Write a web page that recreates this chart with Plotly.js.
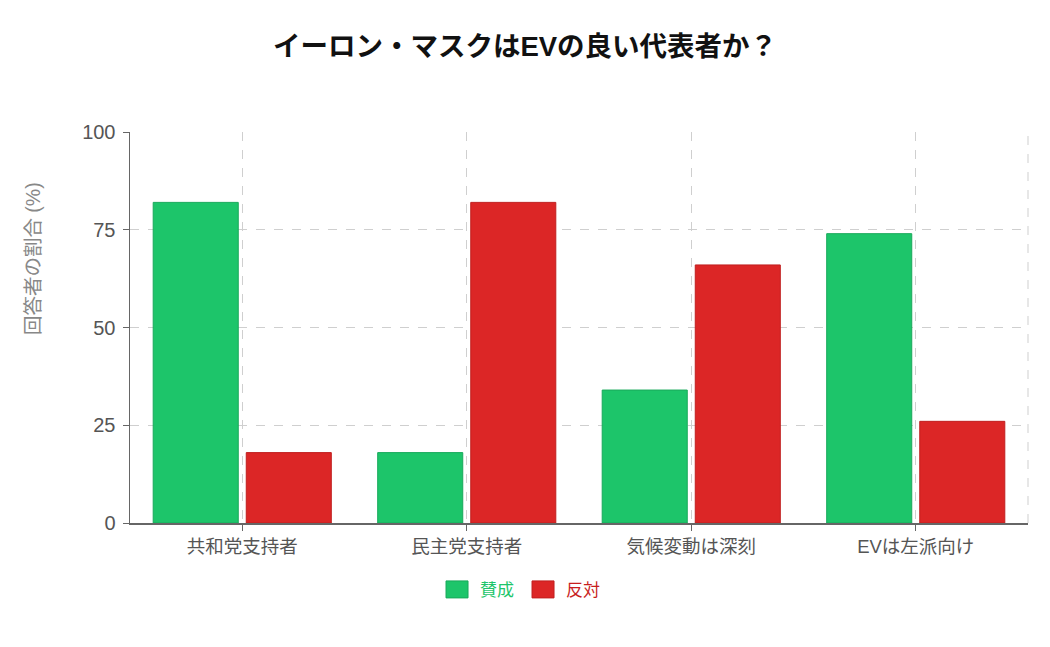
<!DOCTYPE html>
<html>
<head>
<meta charset="utf-8">
<script src="https://cdn.plot.ly/plotly-3.0.1.min.js"></script>
<style>html,body{margin:0;padding:0;background:#fff;}#chart{width:1050px;height:647px;}</style>
</head>
<body>
<div id="chart"></div>
<script>
const categories = ["共和党支持者", "民主党支持者", "気候変動は深刻", "EVは左派向け"];
const agree = [82, 18, 34, 74];
const disagree = [18, 82, 66, 26];
const yTicks = [0, 25, 50, 75, 100];

const font = "'Liberation Sans', 'Noto Sans CJK JP', sans-serif";
const traces = [
  {type: "bar", name: "賛成", x: categories, y: agree,
   marker: {color: "#1dc56a", line: {color: "#18a95a", width: 1}}},
  {type: "bar", name: "反対", x: categories, y: disagree,
   marker: {color: "#dc2626", line: {color: "#c01f1f", width: 1}}}
];
const layout = {
  width: 1050, height: 647,
  margin: {l: 130, r: 22, t: 132, b: 124},
  paper_bgcolor: "#fff", plot_bgcolor: "#fff",
  font: {family: font, color: "#555"},
  title: {text: "<b>イーロン・マスクはEVの良い代表者か？</b>", x: 0.5, xanchor: "center", y: 0.928, yanchor: "middle",
          font: {family: font, size: 27.5, color: "#111"}},
  barmode: "group", bargap: 0.171, bargroupgap: 0.086,
  xaxis: {type: "category", range: [-0.5, 3.5], showline: true, linecolor: "#666", linewidth: 1.5,
          ticks: "outside", ticklen: 6, tickcolor: "#666",
          showgrid: true, gridcolor: "#cfcfcf", griddash: "dash", gridwidth: 1,
          tickfont: {size: 18.5, color: "#555"}, fixedrange: true},
  yaxis: {range: [0, 100], tickvals: yTicks, showline: true, linecolor: "#666", linewidth: 1.5,
          ticks: "outside", ticklen: 6, tickcolor: "#666", ticklabelstandoff: 3,
          showgrid: true, gridcolor: "#cfcfcf", griddash: "dash", gridwidth: 1, zeroline: false,
          tickfont: {size: 20, color: "#555"}},
  annotations: [{text: "回答者の割合 (%)", xref: "paper", yref: "paper", x: 0, y: 0.675,
                 xanchor: "center", yanchor: "middle", xshift: -97, textangle: -90, showarrow: false,
                 font: {size: 19.5, color: "#888"}}],
  legend: {orientation: "h", x: 0.441, xanchor: "center", y: -0.171, yanchor: "middle",
           entrywidth: 41, entrywidthmode: "pixels",
           font: {size: 17}},
  shapes: [{type: "line", xref: "paper", yref: "paper", x0: 1, x1: 1, y0: 0, y1: 1,
            line: {color: "#cfcfcf", width: 1, dash: "dash"}}],
  showlegend: true
};
Plotly.newPlot("chart", traces, layout, {displayModeBar: false, staticPlot: true}).then(function(){
  const colors = ["#1dc56a", "#c81e1e"];
  document.querySelectorAll(".legend .traces .legendtext").forEach(function(t, i){
    t.style.fill = colors[i];
  });
  document.querySelectorAll(".legend .traces .legendpoints path").forEach(function(p){
    p.setAttribute("d", "M8,8.5H-14V-8.5H8Z");
  });
});
</script>
</body>
</html>
